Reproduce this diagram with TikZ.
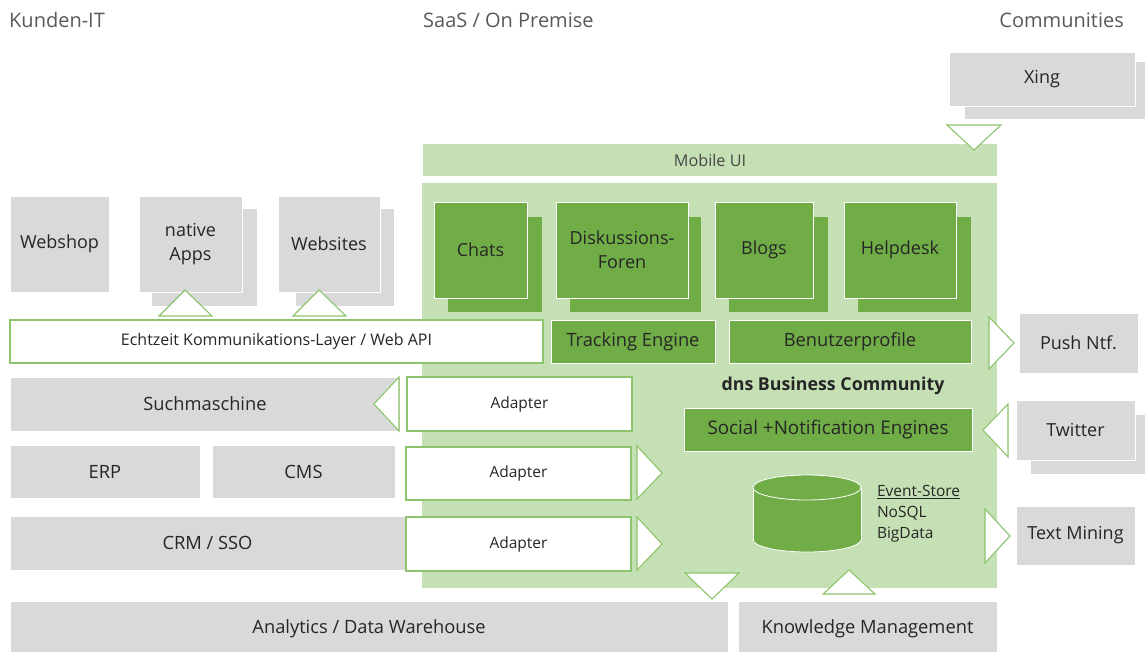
\documentclass[tikz,border=0pt]{standalone}
\usepackage{fontspec}
\setmainfont{Open Sans}
\definecolor{lgreen}{HTML}{C5E0B4}
\definecolor{dgreen}{HTML}{70AD47}
\definecolor{boxgray}{HTML}{D9D9D9}
\definecolor{edgegreen}{HTML}{8DC46C}
\definecolor{txt}{HTML}{262626}
\definecolor{headgray}{HTML}{595959}
\newcommand{\fsz}[2]{\fontsize{#1}{#2}\selectfont}
% \blk{style}{name}{x1}{y1}{x2}{y2}{text}: a box spanning two corners
\newcommand{\blk}[7]{%
  \pgfmathsetmacro\blkw{#5-#3}\pgfmathsetmacro\blkh{#6-#4}%
  \node[#1, minimum width=\blkw pt, minimum height=\blkh pt] (#2) at ({(#3+#5)/2},{(#4+#6)/2}) {#7};}
\begin{document}
\begin{tikzpicture}[x=1pt,y=-1pt,
  base/.style={inner sep=0pt, outer sep=0pt, text=txt, align=center},
  graybox/.style={base, fill=boxgray, draw=white, line width=1pt, font=\fsz{18}{24}},
  graybar/.style={graybox, font=\fsz{18.3}{22}},
  grayback/.style={base, fill=boxgray},
  greenbox/.style={base, fill=dgreen, draw=white, line width=0.8pt, font=\fsz{18}{24}},
  greenback/.style={base, fill=dgreen},
  panel/.style={base, fill=lgreen},
  adapter/.style={base, fill=white, draw=edgegreen, line width=1.2pt, font=\fsz{15.5}{20}},
  tri/.style={fill=white, draw=edgegreen, line width=1.1pt, line join=miter},
  header/.style={inner sep=0pt, text=headgray, font=\fsz{20}{24}}
]
\useasboundingbox (0,0) rectangle (1145,651);

% column headings
\node[header, anchor=west] (hkunden) at (9,20) {Kunden-IT};
\node[header, anchor=west] (hsaas) at (423,20) {SaaS / On Premise};
\node[header, anchor=east] (hcomm) at (1124,20) {Communities};

% SaaS platform panel
\blk{panel, font=\fsz{16.2}{18}, text=txt!85}{mobile}{423}{144}{997}{176}{Mobile UI}
\blk{panel}{platform}{422}{183}{997}{588}{}

% customer IT systems
\blk{graybox}{webshop}{10}{196}{109}{292}{Webshop}
\blk{grayback}{appsback}{152}{209}{257}{306}{}
\blk{graybox}{apps}{139}{196}{242}{292}{native\\Apps}
\blk{grayback}{websitesback}{296}{209}{394}{306}{}
\blk{graybox}{websites}{278}{196}{380}{292}{Websites}

\blk{adapter, font=\fsz{16}{18}}{echtzeit}{10}{320}{543}{363}{Echtzeit Kommunikations-Layer / Web API}

\blk{graybar}{such}{10}{377}{400}{431}{Suchmaschine}
\blk{graybar}{erp}{10}{445}{200}{498}{ERP}
\blk{graybar}{cms}{212}{445}{395}{498}{CMS}
\blk{graybar}{crm}{10}{516}{405}{570}{CRM / SSO}

\blk{graybar}{analytics}{10}{601}{728}{656}{Analytics / Data Warehouse}
\blk{graybar}{knowledge}{738}{601}{997}{656}{Knowledge Management}

% adapters
\blk{adapter}{adapterA}{407}{377}{632}{431}{Adapter}
\blk{adapter}{adapterB}{406}{447}{631}{500}{Adapter}
\blk{adapter}{adapterC}{406}{517}{631}{571}{Adapter}

% community modules
\blk{greenback}{chatsback}{448}{217}{542}{312}{}
\blk{greenbox}{chats}{434}{202}{527}{298}{Chats}
\blk{greenback}{forenback}{570}{217}{701}{312}{}
\blk{greenbox}{foren}{556}{202}{688}{298}{Diskussions-\\Foren}
\blk{greenback}{blogsback}{729}{217}{828}{312}{}
\blk{greenbox}{blogs}{715}{202}{813}{298}{Blogs}
\blk{greenback}{helpdeskback}{858}{217}{971}{312}{}
\blk{greenbox}{helpdesk}{844}{202}{956}{298}{Helpdesk}

\blk{greenbox, font=\fsz{18.3}{22}}{tracking}{551}{320}{715}{363}{Tracking Engine}
\blk{greenbox, font=\fsz{18.3}{22}}{profile}{729}{320}{971}{363}{Benutzerprofile}

\node[base, font=\bfseries\fsz{17.8}{22}] (dnslabel) at (833,386) {dns Business Community};
\blk{greenbox, font=\fsz{18.8}{22}}{social}{684}{408}{972}{451}{Social +Notification Engines}

% event store cylinder
\coordinate (db) at (807,513);
\filldraw[fill=dgreen, draw=white, line width=0.8pt] (807,539.5) ellipse[x radius=54pt, y radius=12.5pt];
\fill[dgreen] (753,487.5) rectangle (861,539.5);
\draw[white, line width=0.8pt] (753,487.5) -- (753,539.5) (861,487.5) -- (861,539.5);
\filldraw[fill=dgreen, draw=white, line width=0.8pt] (807,487.5) ellipse[x radius=54pt, y radius=12.5pt];
\node[base, anchor=north west, align=left, font=\fsz{15.5}{21}] (storelabel) at (877,485)
  {\underline{Event-Store}\\NoSQL\\BigData};

% external communities
\blk{grayback}{xingback}{965}{62}{1146}{119}{}
\blk{graybox}{xing}{949}{52}{1135}{106}{Xing}
\blk{graybox}{push}{1019}{313}{1138}{373}{Push Ntf.}
\blk{grayback}{twitterback}{1031}{415}{1146}{474}{}
\blk{graybox}{twitter}{1016}{400}{1135}{460}{Twitter}
\blk{graybox}{textmining}{1016}{506}{1135}{565}{Text Mining}

% flow markers
\draw[tri] (159,316) -- (212,316) -- (185,290) -- cycle;
\draw[tri] (293,316) -- (346,316) -- (319,290) -- cycle;
\draw[tri] (947,125) -- (1001,125) -- (974,150) -- cycle;
\draw[tri] (989,317) -- (989,369) -- (1014,343) -- cycle;
\draw[tri] (1008,404) -- (1008,457) -- (983,430) -- cycle;
\draw[tri] (985,509) -- (985,563) -- (1010,536) -- cycle;
\draw[tri] (399,377) -- (399,431) -- (374,404) -- cycle;
\draw[tri] (637,446) -- (637,499) -- (662,473) -- cycle;
\draw[tri] (637,517) -- (637,570) -- (662,544) -- cycle;
\draw[tri] (685,573) -- (739,573) -- (712,599) -- cycle;
\draw[tri] (823,594) -- (875,594) -- (849,570) -- cycle;
\end{tikzpicture}
\end{document}
